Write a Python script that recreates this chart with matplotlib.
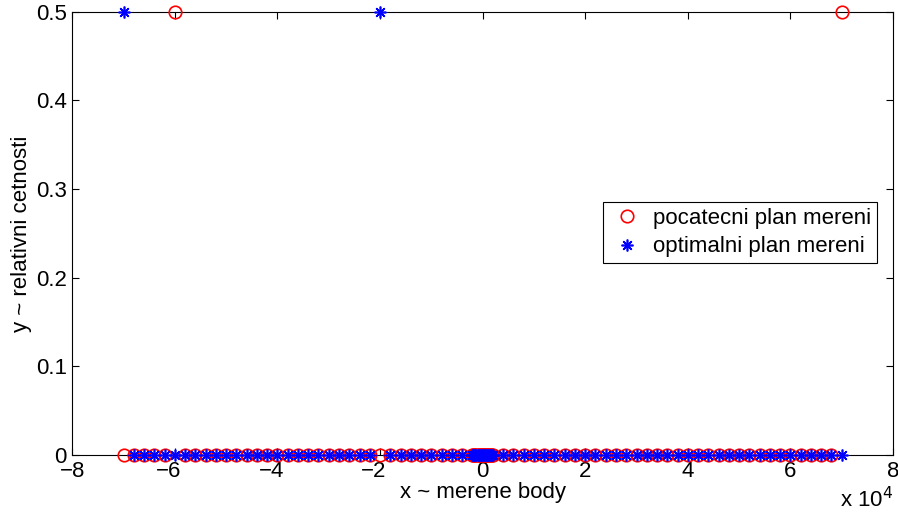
import matplotlib
matplotlib.use("Agg")
import matplotlib.pyplot as plt
from matplotlib.ticker import FuncFormatter
from matplotlib.transforms import ScaledTranslation

plt.rcParams['font.family'] = ['Liberation Sans', 'DejaVu Sans']

# measured points (x in units of 1000)
x_outer = [-70, -68, -66, -64, -62, -60, -58, -56, -54, -52, -50, -48, -46, -44,
           -42, -40, -38, -36, -34, -32, -30, -28, -26, -24, -22, -20, -18, -16,
           -14, -12, -10, -8, -6, -4, -2,
           2, 4, 6, 8, 10, 12, 14, 16, 18, 20, 22, 24, 26, 28, 30, 32, 34, 36,
           38, 40, 42, 44, 46, 48, 50, 52, 54, 56, 58, 60, 62, 64, 66, 68, 70]
x_inner = [-1.8, -1.6, -1.4, -1.2, -1.0, -0.8, -0.6, -0.4, -0.2, 0.0,
           0.2, 0.4, 0.6, 0.8, 1.0, 1.2, 1.4, 1.6, 1.8]
x_points = sorted(x_outer + x_inner)

# relative frequencies
initial_support = {-60: 0.5, 70: 0.5}
optimal_support = {-70: 0.5, -20: 0.5}

x_vals = [v * 1000 for v in x_points]
y_initial = [initial_support.get(v, 0.0) for v in x_points]
y_optimal = [optimal_support.get(v, 0.0) for v in x_points]

x_ticks = [-8, -6, -4, -2, 0, 2, 4, 6, 8]
y_ticks = [0, 0.1, 0.2, 0.3, 0.4, 0.5]

FS = 16

fig = plt.figure(figsize=(8.98, 5.18), dpi=100)
ax = fig.add_axes([0.0805, 0.1216, 0.9139, 0.8558])

ax.plot(x_vals, y_initial, linestyle='none', marker='o', markersize=9,
        markerfacecolor='none', markeredgecolor='red', markeredgewidth=1.2,
        clip_on=False, label='pocatecni plan mereni', zorder=3)
ax.plot(x_vals, y_optimal, linestyle='none', marker=(8, 2, 0), markersize=8.5,
        color='blue', markeredgewidth=1.2,
        clip_on=False, label='optimalni plan mereni', zorder=4)

ax.set_xlim(-80000, 80000)
ax.set_ylim(0, 0.5)
ax.set_xticks([t * 10000 for t in x_ticks])
ax.xaxis.set_major_formatter(FuncFormatter(lambda v, p: ('%g' % (v / 1e4)).replace('-', '\u2212')))
ax.set_yticks(y_ticks)
ax.yaxis.set_major_formatter(FuncFormatter(lambda v, p: '%g' % v))
ax.tick_params(direction='in', top=True, right=True, labelsize=FS, length=5, width=0.8)
ax.tick_params(axis='x', pad=4)
ax.tick_params(axis='y', pad=4)
for s in ax.spines.values():
    s.set_linewidth(0.8)

# MATLAB-style: digit centred on tick, minus hanging to the left
shift = ScaledTranslation(-6.0 / 100, 0, fig.dpi_scale_trans)
for t, lab in zip(x_ticks, ax.get_xticklabels()):
    if t < 0 and t != -8:
        lab.set_transform(lab.get_transform() + shift)

ax.set_xlabel('x ~ merene body', fontsize=FS, labelpad=0)
ax.set_ylabel('y ~ relativni cetnosti', fontsize=FS, labelpad=3)

fig.text(0.995, 0.012, r'x 10$^{4}$', ha='right', va='bottom', fontsize=FS)

leg = ax.legend(loc='upper right', bbox_to_anchor=(0.9805, 0.5707), fontsize=FS,
                frameon=True, fancybox=False, edgecolor='black', framealpha=1,
                borderpad=0.25, handletextpad=0.4, borderaxespad=0, handlelength=1.6,
                labelspacing=0.35)
leg.get_frame().set_linewidth(0.8)

fig.savefig('out.png', dpi=100)
